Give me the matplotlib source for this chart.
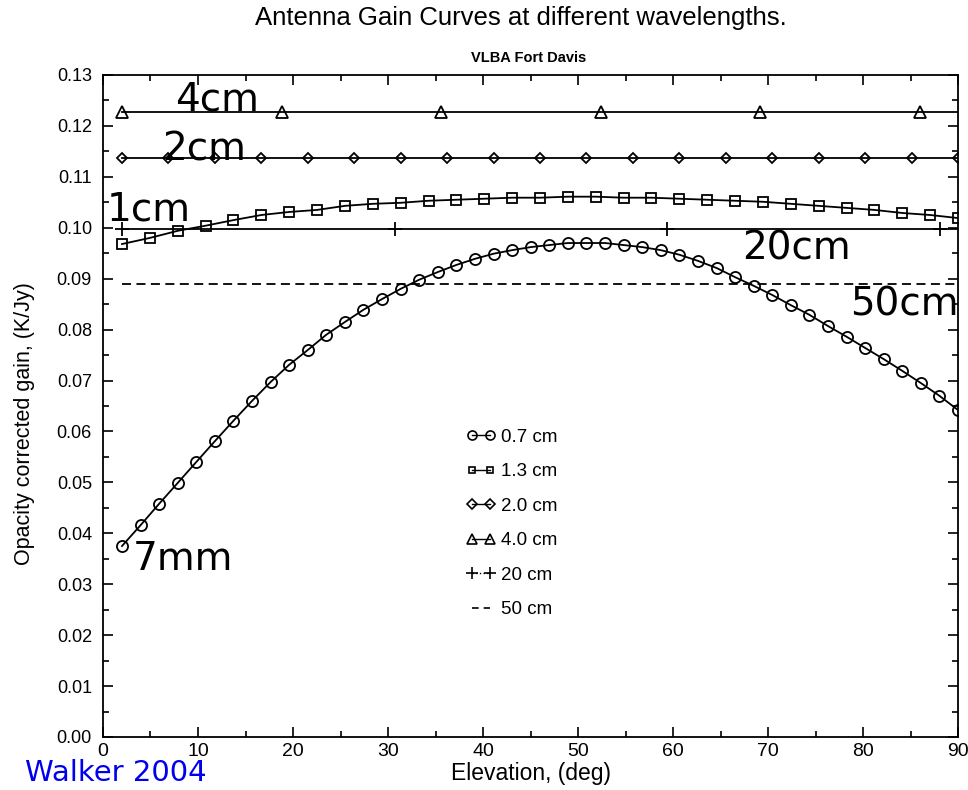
import matplotlib
matplotlib.use("Agg")
import matplotlib.pyplot as plt
from matplotlib.lines import Line2D
from matplotlib.ticker import MultipleLocator, FormatStrFormatter

plt.rcParams['font.family'] = ['Liberation Sans', 'DejaVu Sans']

# 0.7 cm (7 mm) gain curve
el_7mm = [2.0, 3.96, 5.91, 7.87, 9.82, 11.78, 13.73, 15.69, 17.64, 19.6,
          21.56, 23.51, 25.47, 27.42, 29.38, 31.33, 33.29, 35.24, 37.2, 39.16,
          41.11, 43.07, 45.02, 46.98, 48.93, 50.89, 52.84, 54.8, 56.76, 58.71,
          60.67, 62.62, 64.58, 66.53, 68.49, 70.44, 72.4, 74.36, 76.31, 78.27,
          80.22, 82.18, 84.13, 86.09, 88.04, 90.0]
gain_7mm = [0.0375, 0.0416, 0.0458, 0.0499, 0.0540, 0.0581, 0.0621, 0.0660, 0.0697, 0.0731,
            0.0760, 0.0790, 0.0815, 0.0839, 0.0860, 0.0880, 0.0898, 0.0913, 0.0927, 0.0939,
            0.0949, 0.0956, 0.0962, 0.0966, 0.0970, 0.0970, 0.0970, 0.0966, 0.0962, 0.0956,
            0.0947, 0.0935, 0.0921, 0.0903, 0.0886, 0.0868, 0.0848, 0.0829, 0.0807, 0.0786,
            0.0764, 0.0742, 0.0719, 0.0695, 0.0670, 0.0642]

# 1.3 cm gain curve
el_13 = [2.0, 4.93, 7.87, 10.8, 13.73, 16.67, 19.6, 22.53, 25.47, 28.4,
         31.33, 34.27, 37.2, 40.13, 43.07, 46.0, 48.93, 51.87, 54.8, 57.73,
         60.67, 63.6, 66.53, 69.47, 72.4, 75.33, 78.27, 81.2, 84.13, 87.07, 90.0]
gain_13 = [0.0968, 0.0980, 0.0994, 0.1004, 0.1015, 0.1025, 0.1031, 0.1035, 0.1043, 0.1047,
           0.1049, 0.1053, 0.1055, 0.1057, 0.1059, 0.1059, 0.1061, 0.1061, 0.1059, 0.1059,
           0.1057, 0.1055, 0.1053, 0.1051, 0.1047, 0.1043, 0.1039, 0.1035, 0.1029, 0.1025, 0.1019]

# 2.0 cm (flat)
el_20mm = [2.0, 6.89, 11.78, 16.67, 21.56, 26.44, 31.33, 36.22, 41.11, 46.0,
           50.89, 55.78, 60.67, 65.56, 70.44, 75.33, 80.22, 85.11, 90.0]
gain_20mm = [0.1137] * 19

# 4.0 cm (flat); last point carries no marker
el_4cm = [2.0, 18.8, 35.6, 52.4, 69.2, 86.0, 90.0]
gain_4cm = [0.1228] * 7

# 20 cm (flat); last point carries no marker
el_20cm = [2.0, 30.7, 59.4, 88.1, 90.0]
gain_20cm = [0.0998] * 5

# 50 cm (flat, dashed)
el_50cm = [2.0, 90.0]
gain_50cm = [0.0890, 0.0890]

legend_labels = ["0.7 cm", "1.3 cm", "2.0 cm", "4.0 cm", "20 cm", "50 cm"]

fig = plt.figure(figsize=(9.68, 7.90), dpi=100)
ax = fig.add_axes([0.1064, 0.0671, 0.8833, 0.8380])

lw = 1.3
mew = 1.3
ax.plot(el_7mm, gain_7mm, color='black', lw=lw, marker='o', ms=8, mfc='none', mew=mew)
ax.plot(el_13, gain_13, color='black', lw=lw, marker='s', ms=6.5, mfc='none', mew=mew)
ax.plot(el_20mm, gain_20mm, color='black', lw=lw, marker='D', ms=5.5, mfc='none', mew=mew)
ax.plot(el_4cm, gain_4cm, color='black', lw=lw, marker='^', ms=8, mfc='none', mew=mew,
        markevery=list(range(len(el_4cm) - 1)))
ax.plot(el_20cm, gain_20cm, color='black', lw=lw, marker='+', ms=10, mew=mew,
        markevery=list(range(len(el_20cm) - 1)))
ax.plot(el_50cm, gain_50cm, color='black', lw=lw, ls=(0, (5, 3)))

ax.set_xlim(0, 90)
ax.set_ylim(0, 0.13)
ax.xaxis.set_major_locator(MultipleLocator(10))
ax.xaxis.set_minor_locator(MultipleLocator(5))
ax.yaxis.set_major_locator(MultipleLocator(0.01))
ax.yaxis.set_minor_locator(MultipleLocator(0.005))
ax.yaxis.set_major_formatter(FormatStrFormatter('%.2f'))
ax.tick_params(which='both', direction='in', top=True, right=True, width=1.2)
ax.tick_params(which='major', length=7)
ax.tick_params(which='minor', length=4)
ax.tick_params(axis='x', labelsize=14, pad=4)
ax.tick_params(axis='y', labelsize=13, pad=8)
for s in ax.spines.values():
    s.set_linewidth(1.3)

ax.set_xlabel("Elevation, (deg)", fontsize=16.5, labelpad=2)
ax.set_ylabel("Opacity corrected gain, (K/Jy)", fontsize=15.5)
ax.yaxis.set_label_coords(-0.080, 0.474)

fig.text(0.538, 0.977, "Antenna Gain Curves at different wavelengths.",
         ha='center', va='center', fontsize=18.5)
fig.text(0.546, 0.927, "VLBA Fort Davis", ha='center', va='center',
         fontsize=10.5, fontweight='bold')

# legend with separate proxy styles
handles = [
    Line2D([], [], color='black', lw=1.0, marker='o', ms=6.5, mfc='none', mew=1.2),
    Line2D([], [], color='black', lw=1.0, marker='s', ms=5, mfc='none', mew=1.2),
    Line2D([], [], color='black', lw=1.0, marker='D', ms=5, mfc='none', mew=1.2),
    Line2D([], [], color='black', lw=1.0, marker='^', ms=7, mfc='none', mew=1.2),
    Line2D([], [], color='black', lw=1.0, ls=':', marker='+', ms=8, mew=1.2),
    Line2D([], [], color='black', lw=1.2, ls=(0, (4, 3))),
]
ax.legend(handles, legend_labels, loc='upper left', bbox_to_anchor=(0.4246, 0.466),
          frameon=False, fontsize=13.5, numpoints=2, handlelength=1.6,
          handletextpad=0.25, labelspacing=0.93, borderpad=0, borderaxespad=0)

# wavelength annotations
big = dict(fontsize=28, family='DejaVu Sans', color='black', ha='left', va='baseline')
ax.text(7.58, 0.1231, "4cm", **big)
ax.text(6.21, 0.1133, "2cm", **big)
ax.text(0.42, 0.1015, "1cm", **big)
ax.text(67.26, 0.0937, "20cm", **big)
ax.text(78.6, 0.0827, "50cm", **big)
ax.text(3.16, 0.0328, "7mm", **big)

fig.text(25 / 968, 1 - 781 / 790, "Walker 2004", fontsize=21, family='DejaVu Sans',
         color='#0000ee', ha='left', va='baseline')

fig.savefig("out.png", dpi=100)
